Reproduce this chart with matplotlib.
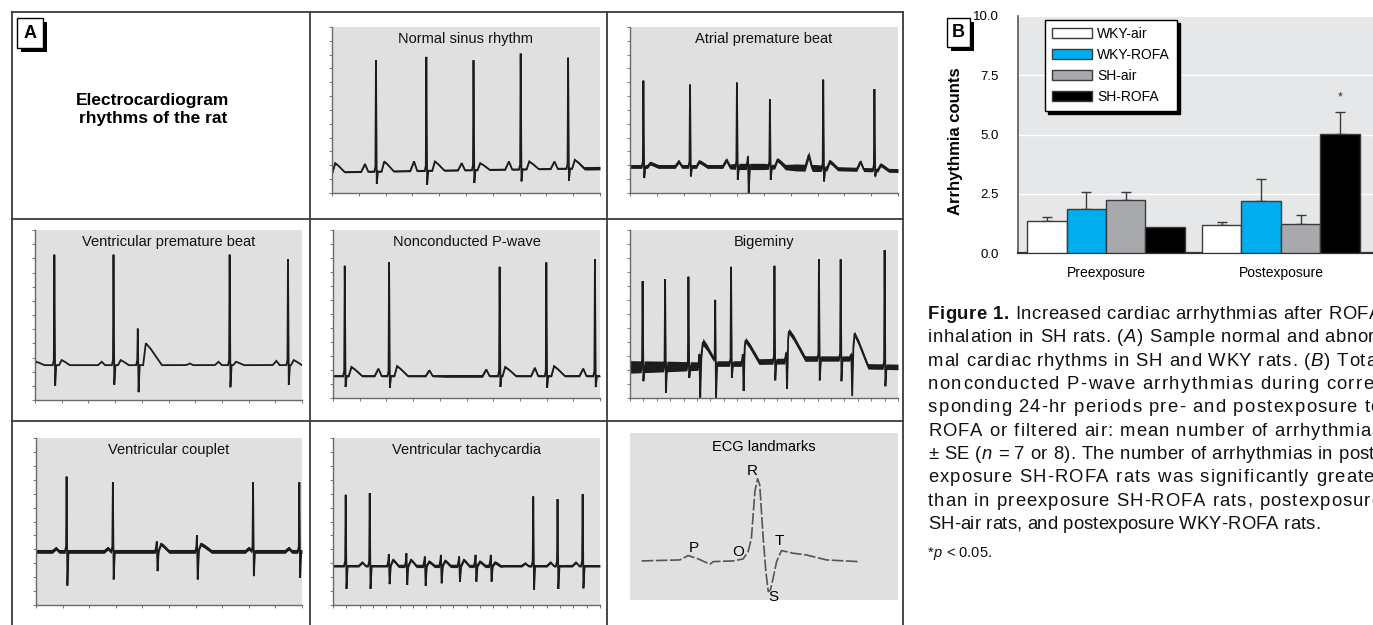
import numpy as np
import matplotlib
matplotlib.use("Agg")
import matplotlib.pyplot as plt
from matplotlib.lines import Line2D
from matplotlib.patches import Rectangle
from matplotlib.font_manager import FontProperties

W, H = 1373, 625
SANS = ["Liberation Sans", "DejaVu Sans"]
plt.rcParams["font.family"] = SANS

# -------------------------
# Panel B data (arrhythmia counts, mean and upper SE)
# -------------------------
groups = ["Preexposure", "Postexposure"]
series = ["WKY-air", "WKY-ROFA", "SH-air", "SH-ROFA"]
bar_colors = ["#ffffff", "#00aeef", "#a7a9ac", "#000000"]
pre_mean = [1.36, 1.87, 2.23, 1.10]
post_mean = [1.18, 2.21, 1.22, 5.04]
pre_se = [0.18, 0.69, 0.34, 0.0]
post_se = [0.13, 0.91, 0.37, 0.93]
b_yticks = [0.0, 2.5, 5.0, 7.5, 10.0]

# -------------------------
# Panel A data: ECG strips, x / y as fractions of each plot box
# qrs: spike peak (r) and trough (s); p / t: small waves
# -------------------------
nsr_base_x, nsr_base_y = [0, 1], [0.125, 0.15]
nsr_qrs_x = [0.164, 0.352, 0.528, 0.704, 0.881]
nsr_qrs_r = [0.80, 0.82, 0.80, 0.84, 0.815]
nsr_qrs_s = [0.056, 0.05, 0.06, 0.07, 0.075]
nsr_p_x = [0.123, 0.306, 0.484, 0.66, 0.83]
nsr_p_h = [0.175, 0.19, 0.18, 0.19, 0.19]
nsr_t_x = [0.012, 0.195, 0.384, 0.553, 0.736, 0.906]
nsr_t_h = [0.18, 0.19, 0.19, 0.18, 0.19, 0.2]
nsr_t_w = [0.035, 0.035, 0.035, 0.035, 0.035, 0.035]
nsr_noise_x, nsr_noise_w = [0, 0.9, 0.95, 1], [1.0, 1.0, 2.5, 2.5]

apb_base_x, apb_base_y = [0, 0.5, 1], [0.16, 0.16, 0.135]
apb_qrs_x = [0.05, 0.224, 0.399, 0.44, 0.522, 0.721, 0.912]
apb_qrs_r = [0.677, 0.653, 0.665, 0.22, 0.564, 0.683, 0.626]
apb_qrs_s = [0.09, 0.10, 0.08, 0.0, 0.08, 0.07, 0.10]
apb_p_x = [0.182, 0.36, 0.667, 0.86]
apb_p_h = [0.19, 0.2, 0.23, 0.19]
apb_t_x = [0.075, 0.258, 0.55, 0.745, 0.935]
apb_t_h = [0.18, 0.19, 0.2, 0.19, 0.17]
apb_t_w = [0.03, 0.03, 0.03, 0.03, 0.03]
apb_noise_x = [0, 0.35, 0.4, 0.5, 0.55, 0.62, 0.7, 0.75, 1]
apb_noise_w = [2.8, 2.8, 4.5, 4.5, 3.0, 5.0, 5.0, 3.0, 2.8]

vpb_base_x, vpb_base_y = [0, 1], [0.205, 0.205]
vpb_qrs_x = [0.0725, 0.294, 0.385, 0.729, 0.9475]
vpb_qrs_r = [0.855, 0.855, 0.42, 0.855, 0.827]
vpb_qrs_s = [0.085, 0.09, 0.046, 0.075, 0.09]
vpb_p_x = [0.25, 0.58, 0.6875, 0.904]
vpb_p_h = [0.225, 0.215, 0.225, 0.23]
vpb_t_x = [0.005, 0.1, 0.321, 0.415, 0.7525, 0.969]
vpb_t_h = [0.225, 0.235, 0.235, 0.334, 0.225, 0.235]
vpb_t_w = [0.03, 0.03, 0.03, 0.06, 0.03, 0.03]
vpb_noise_x, vpb_noise_w = [0, 1], [1.2, 1.2]

ncp_base_x, ncp_base_y = [0, 1], [0.131, 0.131]
ncp_qrs_x = [0.044, 0.21, 0.624, 0.799, 0.981]
ncp_qrs_r = [0.787, 0.807, 0.781, 0.807, 0.827]
ncp_qrs_s = [0.066, 0.06, 0.066, 0.06, 0.065]
ncp_p_x = [0.17, 0.361, 0.574, 0.756, 0.937]
ncp_p_h = [0.175, 0.165, 0.17, 0.18, 0.175]
ncp_t_x = [0.069, 0.24, 0.645, 0.828]
ncp_t_h = [0.185, 0.19, 0.185, 0.19]
ncp_t_w = [0.04, 0.04, 0.04, 0.04]
ncp_noise_x, ncp_noise_w = [0, 0.38, 0.42, 0.55, 0.58, 1], [1.2, 1.2, 1.9, 1.9, 1.2, 1.2]

big_base_x = [0, 0.26, 0.27, 0.42, 0.43, 0.58, 0.59, 0.82, 0.84, 1]
big_base_y = [0.185, 0.19, 0.205, 0.205, 0.215, 0.22, 0.235, 0.235, 0.19, 0.185]
big_qrs_x = [0.047, 0.131, 0.218, 0.259, 0.318, 0.377, 0.421, 0.539, 0.583, 0.705, 0.786, 0.826, 0.950]
big_qrs_r = [0.696, 0.708, 0.722, 0.26, 0.573, 0.781, 0.26, 0.787, 0.27, 0.825, 0.825, 0.26, 0.881]
big_qrs_s = [0.10, 0.03, 0.12, 0.0, 0.0, 0.12, 0.0, 0.105, 0.0, 0.105, 0.10, 0.0, 0.07]
big_p_x, big_p_h = [], []
big_t_x = [0.272, 0.431, 0.593, 0.838]
big_t_h = [0.334, 0.344, 0.398, 0.384]
big_t_w = [0.05, 0.05, 0.06, 0.05]
big_noise_x = [0, 0.15, 0.26, 0.3, 0.6, 0.75, 1]
big_noise_w = [9.0, 7.5, 6.0, 4.0, 4.2, 3.8, 4.0]

cpl_base_x, cpl_base_y = [0, 1], [0.321, 0.321]
cpl_qrs_x = [0.115, 0.289, 0.454, 0.605, 0.816, 0.99]
cpl_qrs_r = [0.769, 0.735, 0.38, 0.418, 0.735, 0.735]
cpl_qrs_s = [0.116, 0.153, 0.203, 0.153, 0.173, 0.163]
cpl_p_x = [0.075, 0.27, 0.8, 0.95]
cpl_p_h = [0.34, 0.34, 0.34, 0.34]
cpl_t_x = [0.47, 0.62]
cpl_t_h = [0.365, 0.365]
cpl_t_w = [0.03, 0.04]
cpl_noise_x, cpl_noise_w = [0, 1], [2.8, 2.8]

vt_base_x, vt_base_y = [0, 1], [0.234, 0.234]
vt_qrs_x = [0.0475, 0.1375, 0.209, 0.275, 0.344, 0.404, 0.4725, 0.534, 0.591, 0.75, 0.841, 0.935]
vt_qrs_r = [0.66, 0.67, 0.304, 0.31, 0.29, 0.3, 0.29, 0.3, 0.3, 0.65, 0.634, 0.664]
vt_qrs_s = [0.096, 0.096, 0.125, 0.12, 0.115, 0.13, 0.14, 0.14, 0.14, 0.09, 0.096, 0.1]
vt_p_x = [0.11, 0.72, 0.815, 0.91]
vt_p_h = [0.255, 0.25, 0.255, 0.255]
vt_t_x = [0.225, 0.292, 0.36, 0.42, 0.49, 0.55, 0.607]
vt_t_h = [0.27, 0.27, 0.26, 0.265, 0.27, 0.26, 0.255]
vt_t_w = [0.02, 0.02, 0.02, 0.02, 0.02, 0.02, 0.02]
vt_noise_x, vt_noise_w = [0, 0.2, 0.22, 0.62, 0.64, 1], [1.6, 1.6, 2.4, 2.4, 1.6, 1.6]

# ECG landmarks sketch
lm_x = [0.0435, 0.186, 0.217, 0.255, 0.298, 0.311, 0.385, 0.422, 0.441, 0.453, 0.466, 0.476,
        0.484, 0.497, 0.507, 0.516, 0.524, 0.534, 0.547, 0.565, 0.609, 0.658, 0.733, 0.851]
lm_y = [0.234, 0.24, 0.266, 0.246, 0.214, 0.23, 0.234, 0.246, 0.29, 0.37, 0.65, 0.726,
        0.69, 0.37, 0.17, 0.05, 0.06, 0.13, 0.23, 0.296, 0.28, 0.27, 0.24, 0.23]
lm_labels = ["P", "O", "R", "T", "S"]
lm_label_x = [0.2385, 0.404, 0.456, 0.559, 0.537]
lm_label_y = [0.314, 0.29, 0.77, 0.354, 0.02]

ECG_BG = "#e0e0e0"
ECG_INK = "#1c1c1c"
FRAME = "#3a3a3a"


def fx(px):
    return px / W


def fy(py):
    return 1 - py / H


def box_axes(fig, box):
    x0, y0, x1, y1 = box
    return fig.add_axes([fx(x0), fy(y1), (x1 - x0) / W, (y1 - y0) / H])


def ecg_trace(base_x, base_y, qrs_x, qrs_r, qrs_s, p_x, p_h, t_x, t_h, t_w):
    """Sum piecewise-linear wave shapes on top of a baseline."""
    shapes = []
    for x, r, s in zip(qrs_x, qrs_r, qrs_s):
        b = np.interp(x, base_x, base_y)
        shapes.append((x + np.array([-0.006, -0.002, 0.0, 0.003, 0.007]),
                       np.array([0.0, 0.03, r - b, s - b, 0.0])))
    for x, h in zip(p_x, p_h):
        b = np.interp(x, base_x, base_y)
        shapes.append((x + np.array([-0.014, 0.0, 0.012]), np.array([0.0, h - b, 0.0])))
    for x, h, w in zip(t_x, t_h, t_w):
        b = np.interp(x, base_x, base_y)
        shapes.append((x + np.array([-0.01, 0.0, 0.3 * w, w]),
                       np.array([0.0, h - b, 0.75 * (h - b), 0.0])))
    xs = np.unique(np.concatenate([np.linspace(0, 1, 2500)] + [sx for sx, _ in shapes]))
    xs = xs[(xs >= 0) & (xs <= 1)]
    base = np.interp(xs, base_x, base_y)
    ys = base.copy()
    for sx, sy in shapes:
        ys += np.interp(xs, sx, sy, left=0.0, right=0.0)
    return xs, ys, base


def ecg_panel(fig, box, title, n_xt, trace, noise_x, noise_w):
    ax = box_axes(fig, box)
    ax.set_facecolor(ECG_BG)
    ax.set_xlim(0, 1)
    ax.set_ylim(0, 1)
    for s in ("top", "right"):
        ax.spines[s].set_visible(False)
    for s in ("left", "bottom"):
        ax.spines[s].set_color("#6a6a6a")
        ax.spines[s].set_linewidth(1.0)
    ax.set_xticks(np.linspace(0, 1, n_xt))
    ax.set_yticks(np.linspace(0, 1, 13))
    ax.tick_params(length=2.5, width=0.7, color="#777777", labelbottom=False, labelleft=False)
    xs, ys, base = trace
    # noisy baseline drawn as a dark band that follows the low part of the trace
    if max(noise_w) > 1.3:
        dev = ys - base
        center = np.where((dev > -0.05) & (dev < 0.2), ys, base)
        half = np.interp(xs, noise_x, noise_w) * (100 / 72) / 2 / (box[3] - box[1])
        ax.fill_between(xs, center - half, center + half, color=ECG_INK, lw=0)
    ax.plot(xs, ys, color=ECG_INK, lw=1.3, solid_joinstyle="miter")
    ax.text(0.5, 0.93, title, transform=ax.transAxes, ha="center", va="center",
            fontsize=10.5, color="#111111")
    return ax


def label_box(fig, x0, y0, x1, y1, letter):
    fig.add_artist(Rectangle((fx(x0 + 4), fy(y1 + 4)), (x1 - x0) / W, (y1 - y0) / H,
                             transform=fig.transFigure, facecolor="black", edgecolor="none"))
    fig.add_artist(Rectangle((fx(x0), fy(y1)), (x1 - x0) / W, (y1 - y0) / H,
                             transform=fig.transFigure, facecolor="white", edgecolor="black", lw=1))
    fig.text(fx((x0 + x1) / 2), fy((y0 + y1) / 2), letter, ha="center", va="center",
             fontsize=13, fontweight="bold")


fig = plt.figure(figsize=(W / 100, H / 100), dpi=100)

# -------------------------
# Panel A frame
# -------------------------
frame_lines = [
    (12, 12, 903, 12), (12, 12, 12, 625), (903, 12, 903, 625),
    (310, 12, 310, 625), (607, 12, 607, 625),
    (12, 219, 903, 219), (12, 421, 903, 421),
]
for a, b, c, d in frame_lines:
    fig.add_artist(Line2D([fx(a), fx(c)], [fy(b), fy(d)], color=FRAME, lw=1.3))
label_box(fig, 17, 18, 43, 48, "A")
fig.text(fx(153), fy(110), "Electrocardiogram\nrhythms of the rat", ha="center", va="center",
         fontsize=12.5, fontweight="bold", linespacing=1.25)

ecg_panel(fig, (332, 27, 600, 193), "Normal sinus rhythm", 11,
          ecg_trace(nsr_base_x, nsr_base_y, nsr_qrs_x, nsr_qrs_r, nsr_qrs_s,
                    nsr_p_x, nsr_p_h, nsr_t_x, nsr_t_h, nsr_t_w), nsr_noise_x, nsr_noise_w)
ecg_panel(fig, (630, 27, 898, 193), "Atrial premature beat", 11,
          ecg_trace(apb_base_x, apb_base_y, apb_qrs_x, apb_qrs_r, apb_qrs_s,
                    apb_p_x, apb_p_h, apb_t_x, apb_t_h, apb_t_w), apb_noise_x, apb_noise_w)
ecg_panel(fig, (35, 230, 302, 400), "Ventricular premature beat", 11,
          ecg_trace(vpb_base_x, vpb_base_y, vpb_qrs_x, vpb_qrs_r, vpb_qrs_s,
                    vpb_p_x, vpb_p_h, vpb_t_x, vpb_t_h, vpb_t_w), vpb_noise_x, vpb_noise_w)
ecg_panel(fig, (333, 230, 600, 398), "Nonconducted P-wave", 11,
          ecg_trace(ncp_base_x, ncp_base_y, ncp_qrs_x, ncp_qrs_r, ncp_qrs_s,
                    ncp_p_x, ncp_p_h, ncp_t_x, ncp_t_h, ncp_t_w), ncp_noise_x, ncp_noise_w)
ecg_panel(fig, (630, 230, 898, 398), "Bigeminy", 21,
          ecg_trace(big_base_x, big_base_y, big_qrs_x, big_qrs_r, big_qrs_s,
                    big_p_x, big_p_h, big_t_x, big_t_h, big_t_w), big_noise_x, big_noise_w)
ecg_panel(fig, (36, 438, 302, 605), "Ventricular couplet", 11,
          ecg_trace(cpl_base_x, cpl_base_y, cpl_qrs_x, cpl_qrs_r, cpl_qrs_s,
                    cpl_p_x, cpl_p_h, cpl_t_x, cpl_t_h, cpl_t_w), cpl_noise_x, cpl_noise_w)
ecg_panel(fig, (333, 438, 600, 605), "Ventricular tachycardia", 21,
          ecg_trace(vt_base_x, vt_base_y, vt_qrs_x, vt_qrs_r, vt_qrs_s,
                    vt_p_x, vt_p_h, vt_t_x, vt_t_h, vt_t_w), vt_noise_x, vt_noise_w)

ax_lm = box_axes(fig, (630, 433, 898, 600))
ax_lm.set_facecolor(ECG_BG)
ax_lm.set_xlim(0, 1)
ax_lm.set_ylim(0, 1)
ax_lm.set_xticks([])
ax_lm.set_yticks([])
for s in ax_lm.spines.values():
    s.set_visible(False)
ax_lm.plot(lm_x, lm_y, color="#555555", lw=1.2, ls=(0, (7, 1.5)))
for lab, lx, ly in zip(lm_labels, lm_label_x, lm_label_y):
    ax_lm.text(lx, ly, lab, ha="center", va="center", fontsize=11)
ax_lm.text(0.5, 0.916, "ECG landmarks", ha="center", va="center", fontsize=10.5)

# -------------------------
# Panel B: bar chart
# -------------------------
ax = fig.add_axes([fx(1018), fy(253), (W - 1018) / W, (253 - 16) / H])
ax.set_facecolor("#e6e7e8")
xg = np.arange(len(groups))
bw = 0.2257
for i, name in enumerate(series):
    means = [pre_mean[i], post_mean[i]]
    ses = [pre_se[i], post_se[i]]
    pos = xg + (i - 1.5) * bw
    ax.bar(pos, means, bw, color=bar_colors[i], edgecolor="#3a3a3a", lw=1.0,
           label=name, zorder=3)
    for p, m, e in zip(pos, means, ses):
        if e > 0:
            ax.errorbar([p], [m], yerr=[[0], [e]], fmt="none", ecolor="#3a3a3a",
                        elinewidth=1.0, capsize=3.5, capthick=1.0, zorder=2)
ax.text(xg[1] + 1.5 * bw, post_mean[3] + post_se[3] + 0.6, "*", ha="center", va="center",
        fontsize=9, color="#333333")
ax.set_xlim(-0.503, 1.526)
ax.set_ylim(0, 10)
ax.set_yticks(b_yticks, [f"{v:.1f}" for v in b_yticks])
ax.set_xticks(xg, groups)
ax.yaxis.grid(True, color="white", lw=1.0)
ax.set_axisbelow(True)
ax.tick_params(axis="y", length=0, pad=14, labelsize=9.5)
ax.tick_params(axis="x", length=0, pad=9, labelsize=10)
for s in ("top", "right"):
    ax.spines[s].set_visible(False)
ax.spines["left"].set_color("#555555")
ax.spines["left"].set_linewidth(1.2)
ax.spines["bottom"].set_color("#333333")
ax.spines["bottom"].set_linewidth(1.6)
ax.set_ylabel("Arrhythmia counts", fontsize=12, fontweight="bold")
ax.yaxis.set_label_coords((963 - 1018) / (W - 1018), 0.47)
leg = ax.legend(loc="upper left", bbox_to_anchor=(fx(1045), fy(20)), bbox_transform=fig.transFigure,
                borderaxespad=0, frameon=True, fancybox=False, framealpha=1,
                shadow={"facecolor": "black", "edgecolor": "black", "alpha": 1},
                prop=FontProperties(family=SANS, size=10), handlelength=2.9,
                handleheight=0.75, labelspacing=0.5, handletextpad=0.35, borderpad=0.5)
leg.get_frame().set_edgecolor("black")
leg.get_frame().set_linewidth(1.0)
label_box(fig, 947, 18, 970, 47, "B")

# -------------------------
# Caption (justified by spreading characters)
# -------------------------
CAPTION_LINES = [
    [("Figure 1.", "b"), (" Increased cardiac arrhythmias after ROFA", "n")],
    [("inhalation in SH rats. (", "n"), ("A", "i"), (") Sample normal and abnor-", "n")],
    [("mal cardiac rhythms in SH and WKY rats. (", "n"), ("B", "i"), (") Total", "n")],
    [("nonconducted P-wave arrhythmias during corre-", "n")],
    [("sponding 24-hr periods pre- and postexposure to", "n")],
    [("ROFA or filtered air: mean number of arrhythmias", "n")],
    [("\u00b1 SE (", "n"), ("n", "i"), (" = 7 or 8). The number of arrhythmias in post-", "n")],
    [("exposure SH-ROFA rats was significantly greater", "n")],
    [("than in preexposure SH-ROFA rats, postexposure", "n")],
    [("SH-air rats, and postexposure WKY-ROFA rats.", "n")],
]
cap_baselines = [319, 342, 366, 389, 412, 436, 459, 482, 506, 529]
cap_right = [1381, 1381, 1381, 1381, 1381, 1381, 1381, 1381, 1381, 1320]
cap_x0 = 928
CAP_SIZE = 13.3

renderer = fig.canvas.get_renderer()


def make_props(size):
    return {
        "n": FontProperties(family=SANS, size=size),
        "b": FontProperties(family=SANS, size=size, weight="bold"),
        "i": FontProperties(family=SANS, size=size, style="italic"),
    }


def advance(ch, prop):
    w1 = renderer.get_text_width_height_descent(ch + "|", prop, ismath=False)[0]
    w0 = renderer.get_text_width_height_descent("|", prop, ismath=False)[0]
    return w1 - w0


def place_line(runs, x0, base_y, right, props):
    chars = [(c, st) for text, st in runs for c in text]
    advs = [advance(c, props[st]) for c, st in chars]
    gap = 0.0 if right is None else (right - x0 - sum(advs)) / (len(chars) - 1)
    x = x0
    for (c, st), a in zip(chars, advs):
        if c != " ":
            fig.text(fx(x), fy(base_y), c, fontproperties=props[st], ha="left", va="baseline",
                     color="#111111")
        x += a + gap


cap_props = make_props(CAP_SIZE)
for runs, by, rt in zip(CAPTION_LINES, cap_baselines, cap_right):
    place_line(runs, cap_x0, by, rt, cap_props)
place_line([("*", "n"), ("p", "i"), (" < 0.05.", "n")], cap_x0, 557, None, make_props(10.5))

fig.savefig("out.png", dpi=100)
